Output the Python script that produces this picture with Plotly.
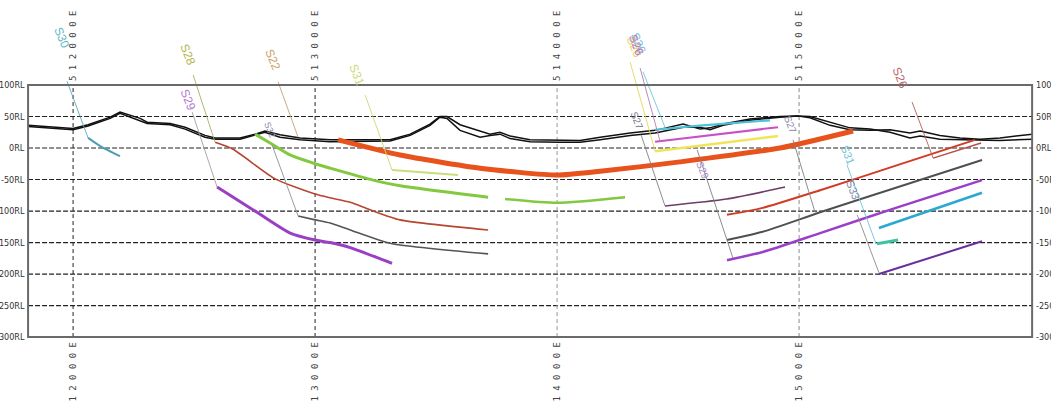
import plotly.graph_objects as go

# ---------------- axes / frame values ----------------
frame_e = [511814, 515963]
frame_rl = [-300, 100]
view_e = [511698, 516041]
view_rl = [-411, 234.9]

grid_rl = [50, 0, -50, -100, -150, -200, -250]
rl_ticks = [100, 50, 0, -50, -100, -150, -200, -250, -300]
rl_labels = ["100RL", "50RL", "0RL", "-50RL", "-100RL", "-150RL", "-200RL", "-250RL", "-300RL"]
easting_ticks = [512000, 513000, 514000, 515000]
easting_labels = ["5 1 2 0 0 0 E", "5 1 3 0 0 0 E", "5 1 4 0 0 0 E", "5 1 5 0 0 0 E"]
easting_line_colors = ["#222222", "#222222", "#9a9a9a", "#8a8a8a"]
top_label_rl = 162
bottom_label_rl = -364

# ---------------- topography (two surfaces) ----------------
topo_e = [511814, 512000, 512062, 512153, 512194, 512277, 512306, 512401, 512463, 512545,
          512587, 512690, 512752, 512793, 512855, 512938, 513062, 513310, 513393, 513475,
          513516, 513545, 513599, 513682, 513723, 513764, 513806, 513888, 514012, 514095,
          514178, 514302, 514405, 514521, 514591, 514632, 514686, 514797, 514921, 514992,
          515045, 515128, 515210, 515293, 515376, 515458, 515500, 515582, 515665, 515748,
          515830, 515963]
topo1_rl = [36, 31, 37, 49, 57, 47, 41, 39, 33, 20,
            16, 16, 22, 27, 21, 16, 13, 13, 22, 38,
            50, 50, 37, 27, 22, 25, 19, 13, 12, 12,
            17, 24, 28, 38, 30, 32, 38, 46, 50, 51,
            48, 36, 29, 28, 29, 24, 27, 20, 16, 14,
            16, 22]
topo2_rl = [34, 29, 35, 47, 55, 44, 39, 37, 30, 17,
            14, 14, 20, 25, 17, 13, 10, 11, 20, 36,
            49, 47, 28, 17, 20, 22, 15, 10, 9, 9,
            13, 20, 24, 33, 33, 29, 36, 44, 49, 51,
            50, 41, 32, 30, 25, 16, 19, 14, 13, 13,
            12, 14]

# ---------------- seams ----------------
s30_e = [512062, 512112, 512194]
s30_rl = [16, 3, -13]

orange_e = [513095, 513351, 513682, 514000, 514178, 514508, 514921, 515223]
orange_rl = [13, -11, -32, -43, -37, -22, 0, 27]

green1_e = [512752, 512814, 512897, 513000, 513062, 513240, 513351, 513715]
green1_rl = [22, 8, -11, -25, -32, -51, -60, -78]
green2_e = [513785, 514000, 514281]
green2_rl = [-81, -87, -78]

s31_e = [513318, 513591]
s31_rl = [-35, -43]

brown_l_e = [512587, 512661, 512835, 513000, 513062, 513145, 513227, 513351, 513715]
brown_l_rl = [9, -2, -49, -73, -79, -86, -98, -114, -130]

purple_l_e = [512595, 512760, 512897, 513000, 513062, 513145, 513318]
purple_l_rl = [-62, -102, -135, -146, -150, -158, -183]

gray_l_e = [512930, 513000, 513062, 513145, 513310, 513715]
gray_l_rl = [-108, -114, -119, -130, -151, -168]

cyan_m_e = [514405, 514600, 514880]
cyan_m_rl = [29, 36, 44]
pink_m_e = [514405, 514913]
pink_m_rl = [10, 33]
yellow_m_e = [514405, 514913]
yellow_m_rl = [-5, 19]
maroon_m_e = [514446, 514700, 514942]
maroon_m_rl = [-92, -81, -62]

red_r_e = [514702, 514850, 515087, 515400, 515727]
red_r_rl = [-106, -95, -67, -28, 13]
gray_r_e = [514702, 514850, 515087, 515400, 515756]
gray_r_rl = [-146, -133, -102, -63, -19]
purple_r_e = [514702, 514850, 515087, 515400, 515756]
purple_r_rl = [-178, -165, -135, -95, -51]
brown_r_e = [515554, 515752]
brown_r_rl = [-16, 8]
cyan_r_e = [515330, 515756]
cyan_r_rl = [-127, -71]
teal_r_e = [515322, 515409]
teal_r_rl = [-152, -146]
dpurple_r_e = [515330, 515756]
dpurple_r_rl = [-200, -148]

# ---------------- seam labels and leaders ----------------
label_text = ["S30", "S28", "S29", "S22", "S32", "S31", "S26", "S26", "S26",
              "S27", "S29", "S27", "S26", "S31", "S33"]
label_e = [511954, 512475, 512475, 512826, 512814, 513173, 514318, 514334, 514326,
           514330, 514603, 514963, 515417, 515202, 515223]
label_rl = [175, 148, 76, 140, 29, 116, 160, 166, 163,
            44, -35, 37, 111, -11, -67]
label_color = ["#5fb6c8", "#b2b54c", "#b27ad2", "#c9a266", "#8a8aa8", "#c8da78",
               "#e6d65a", "#6cc6dc", "#cc6ec4", "#7a7a8c", "#a586c4", "#8a8aa6",
               "#b8666a", "#72c2d2", "#7a86a6"]
label_size = [12, 12, 12, 12, 9, 12, 12, 12, 12, 10, 10, 10, 12, 11, 11]

leader_e0 = [511975, 512496, 512492, 512847, 512822, 513207, 514302, 514355, 514343,
             514347, 514579, 514975, 515467, 515198, 515240]
leader_rl0 = [106, 116, 57, 105, 5, 84, 136, 121, 127, 21, -3, 13, 73, -27, -106]
leader_e1 = [512062, 512587, 512595, 512930, 512930, 513318, 514405, 514450, 514426,
             514446, 514727, 515066, 515554, 515318, 515330]
leader_rl1 = [16, 9, -62, 17, -108, -35, -5, 29, 10, -92, -175, -102, -16, -152, -198]
leader_color = ["#5fa8b8", "#a8b060", "#a0a0a0", "#c0a070", "#909090", "#c8dc70",
                "#e6d65a", "#6cc6dc", "#b080b0", "#808080", "#808080", "#808080",
                "#b06058", "#72c2d2", "#8a8a8a"]

fig = go.Figure()

# topography
for rl in (topo1_rl, topo2_rl):
    fig.add_trace(go.Scatter(x=topo_e, y=rl, mode="lines",
                             line=dict(color="#111111", width=1.5), hoverinfo="skip"))

seams = [
    (s30_e, s30_rl, "#4a9fb2", 2.0),
    (brown_l_e, brown_l_rl, "#b8452f", 1.6),
    (purple_l_e, purple_l_rl, "#9a3fc4", 3.0),
    (gray_l_e, gray_l_rl, "#555555", 1.6),
    (green1_e, green1_rl, "#82c93f", 3.0),
    (green2_e, green2_rl, "#82c93f", 2.5),
    (s31_e, s31_rl, "#c9de7a", 2.0),
    (cyan_m_e, cyan_m_rl, "#4cc3d9", 2.2),
    (pink_m_e, pink_m_rl, "#c94fc9", 2.0),
    (yellow_m_e, yellow_m_rl, "#efe55a", 2.6),
    (maroon_m_e, maroon_m_rl, "#6e3c66", 1.6),
    (red_r_e, red_r_rl, "#d23b25", 2.0),
    (gray_r_e, gray_r_rl, "#505050", 2.0),
    (purple_r_e, purple_r_rl, "#9b3fc8", 2.5),
    (brown_r_e, brown_r_rl, "#b55045", 1.5),
    (cyan_r_e, cyan_r_rl, "#2aa8d0", 2.6),
    (teal_r_e, teal_r_rl, "#3fc4a0", 3.0),
    (dpurple_r_e, dpurple_r_rl, "#6a2da0", 2.0),
    (orange_e, orange_rl, "#e8521c", 5.0),
]
for e, rl, col, w in seams:
    fig.add_trace(go.Scatter(x=e, y=rl, mode="lines", line=dict(color=col, width=w,
                             shape="spline", smoothing=0.6), hoverinfo="skip"))

# leaders
for i in range(len(leader_e0)):
    fig.add_trace(go.Scatter(x=[leader_e0[i], leader_e1[i]], y=[leader_rl0[i], leader_rl1[i]],
                             mode="lines", line=dict(color=leader_color[i], width=0.9),
                             hoverinfo="skip"))

shapes = []
# horizontal dashed grid
for rl in grid_rl:
    shapes.append(dict(type="line", xref="x", yref="y", x0=frame_e[0], x1=frame_e[1],
                       y0=rl, y1=rl, line=dict(color="#222222", width=1.2, dash="5px,2px"),
                       layer="below"))
# vertical easting lines
for e, col in zip(easting_ticks, easting_line_colors):
    shapes.append(dict(type="line", xref="x", yref="y", x0=e, x1=e,
                       y0=frame_rl[0], y1=frame_rl[1],
                       line=dict(color=col, width=1.0, dash="4px,3px"), layer="below"))
# frame
shapes.append(dict(type="rect", xref="x", yref="y", x0=frame_e[0], x1=frame_e[1],
                   y0=frame_rl[0], y1=frame_rl[1], line=dict(color="#6a6a6a", width=2)))

ann = []
lab_font = "DejaVu Sans Condensed, Liberation Sans Narrow, Arial"
for v, t in zip(rl_ticks, rl_labels):
    ann.append(dict(x=frame_e[0], y=v, xref="x", yref="y", text=t, showarrow=False,
                    xanchor="right", xshift=-1, font=dict(size=9, color="#333333", family=lab_font)))
    ann.append(dict(x=frame_e[1], y=v, xref="x", yref="y", text=t, showarrow=False,
                    xanchor="left", xshift=2, font=dict(size=9, color="#333333", family=lab_font)))
for e, t in zip(easting_ticks, easting_labels):
    for yy in (top_label_rl, bottom_label_rl):
        ann.append(dict(x=e, y=yy, xref="x", yref="y", text=t, showarrow=False, textangle=-90,
                        font=dict(size=9, color="#444444", family="DejaVu Sans Mono")))
for t, e, rl, c, s in zip(label_text, label_e, label_rl, label_color, label_size):
    ann.append(dict(x=e, y=rl, xref="x", yref="y", text=t, showarrow=False, textangle=68,
                    font=dict(size=s, color=c, family="Liberation Sans Narrow, Arial")))

fig.update_layout(
    width=1051, height=407,
    margin=dict(l=0, r=0, t=0, b=0),
    paper_bgcolor="white", plot_bgcolor="white",
    showlegend=False,
    xaxis=dict(range=view_e, visible=False, fixedrange=True),
    yaxis=dict(range=view_rl, visible=False, fixedrange=True),
    shapes=shapes, annotations=ann,
)

fig.write_html("out.html", config={"displayModeBar": False},
               post_script="document.documentElement.style.margin='0';"
                           "document.body.style.margin='0';document.body.style.overflow='hidden';")
